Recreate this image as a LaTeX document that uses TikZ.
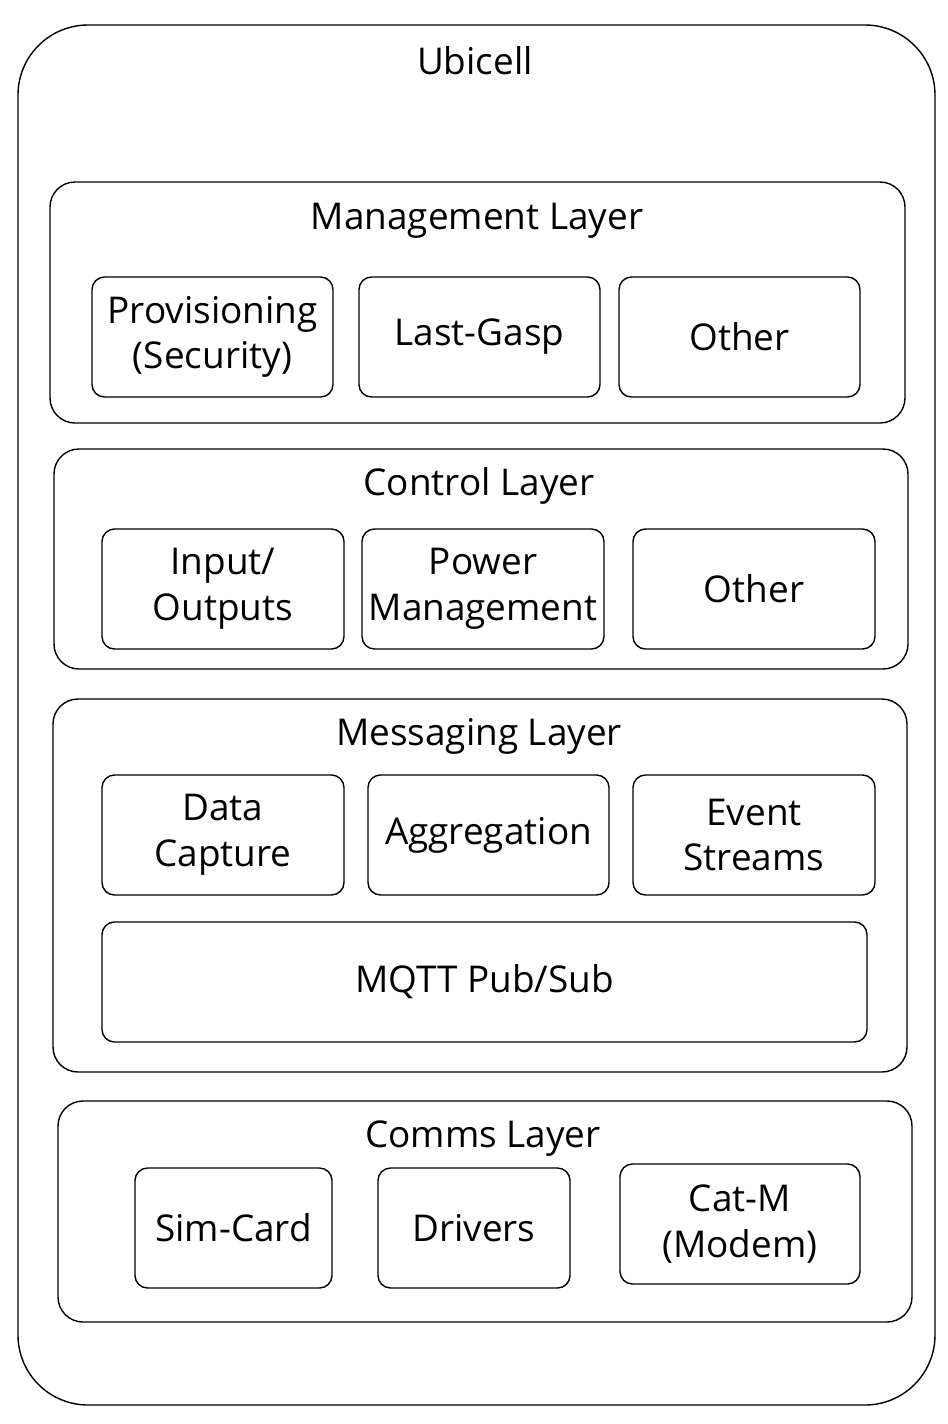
\documentclass[tikz,border=0pt]{standalone}
\usepackage{fontspec}
\setmainfont{Open Sans}
\usetikzlibrary{positioning}

\begin{document}
\begin{tikzpicture}[scale=1.0]
  \useasboundingbox (0,0) rectangle (18.96,-28.48);
  \tikzstyle{box}=[draw, thick, rounded corners=0.25cm, minimum width=4.82cm, minimum height=2.4cm, align=center, font=\fontsize{21}{26}\selectfont, inner sep=1pt]
  \tikzstyle{layer}=[draw, thick, rounded corners=0.5cm, minimum width=17.08cm]
  \tikzstyle{title}=[font=\fontsize{21}{26}\selectfont]

  % Contenedor
  \node[draw, thick, rounded corners=1.4cm, minimum width=18.34cm, minimum height=27.6cm] (ubicell) at (9.53,-14.3) {};
  \node[title] (t0) at (9.5,-1.22) {Ubicell};

  % Management Layer
  \node[layer, minimum width=17.1cm, minimum height=4.82cm] (mgmt) at (9.55,-6.05) {};
  \node[title] (t1) at (9.54,-4.42) {Management Layer};
  \node[box] (prov) at (4.25,-6.74) {Provisioning\\(Security)};
  \node[box] (gasp) at (9.59,-6.74) {Last-Gasp};
  \node[box] (oth1) at (14.79,-6.74) {Other};

  % Control Layer
  \node[layer, minimum height=4.4cm] (ctrl) at (9.62,-11.18) {};
  \node[title] (t2) at (9.58,-9.72) {Control Layer};
  \node[box, minimum width=4.84cm] (io) at (4.46,-11.78) {Input/\\Outputs};
  \node[box, minimum width=4.84cm] (pwr) at (9.66,-11.78) {Power\\Management};
  \node[box, minimum width=4.84cm] (oth2) at (15.08,-11.78) {Other};

  % Messaging Layer
  \node[layer, minimum height=7.46cm] (msg) at (9.6,-17.71) {};
  \node[title] (t3) at (9.58,-14.72) {Messaging Layer};
  \node[box, minimum width=4.84cm] (data) at (4.46,-16.7) {Data\\Capture};
  \node[box] (aggr) at (9.77,-16.7) {Aggregation};
  \node[box, minimum width=4.84cm] (evt) at (15.08,-16.7) {Event\\Streams};
  \node[box, minimum width=15.3cm] (mqtt) at (9.69,-19.64) {MQTT Pub/Sub};

  % Comms Layer
  \node[layer, minimum height=4.42cm] (comms) at (9.7,-24.23) {};
  \node[title] (t4) at (9.66,-22.78) {Comms Layer};
  \node[box, minimum width=3.94cm] (sim) at (4.67,-24.56) {Sim-Card};
  \node[box, minimum width=3.84cm] (drv) at (9.48,-24.56) {Drivers};
  \node[box, minimum width=4.8cm] (catm) at (14.8,-24.48) {Cat-M\\(Modem)};
\end{tikzpicture}
\end{document}
